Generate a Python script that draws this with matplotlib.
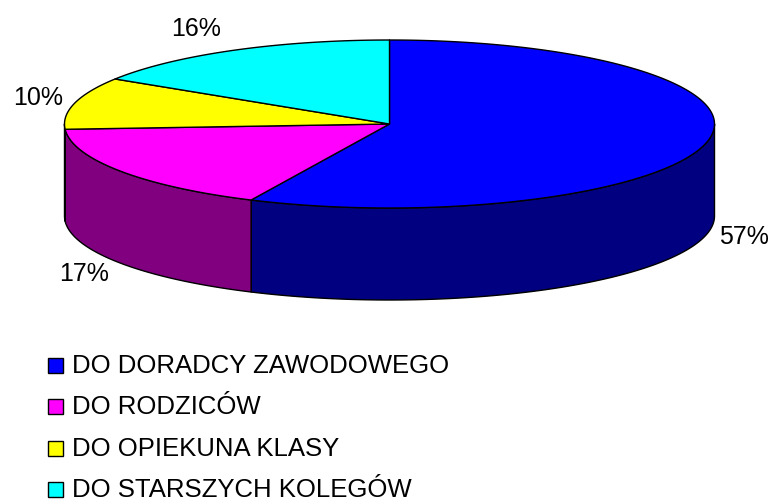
import numpy as np
import matplotlib
matplotlib.use("Agg")
from matplotlib import pyplot as plt
from matplotlib.patches import Polygon, Rectangle

labels = ["DO DORADCY ZAWODOWEGO", "DO RODZICÓW", "DO OPIEKUNA KLASY", "DO STARSZYCH KOLEGÓW"]
values = [57, 17, 10, 16]
top_colors = ["#0000FF", "#FF00FF", "#FFFF00", "#00FFFF"]
side_colors = ["#000080", "#800080", "#808000", "#008080"]

plt.rcParams['font.family'] = ['Liberation Sans', 'DejaVu Sans']

# pie geometry, in pixels
CX, CY = 389.5, 125
RX, RY = 325, 84
DEPTH = 92


def pt(theta, dy=0):
    t = np.radians(theta)
    return CX + RX * np.cos(t), CY - RY * np.sin(t) + dy


def arc(a1, a2, dy=0):
    th = np.linspace(a1, a2, max(int(abs(a2 - a1)) + 2, 2))
    return [pt(t, dy) for t in th]


fig = plt.figure(figsize=(7.7, 5.02), dpi=100)
ax = fig.add_axes([0, 0, 1, 1])
ax.set_xlim(0, 770)
ax.set_ylim(502, 0)
ax.axis("off")

total = float(sum(values))
# slices go clockwise from 12 o'clock
angles = []
end = 90.0
for v in values:
    start = end - v / total * 360.0
    angles.append((start, end))
    end = start

# sides (only the front half is visible)
for (a1, a2), sc in zip(angles, side_colors):
    for off in (-360, 0, 360):
        lo = max(a1, 180 + off)
        hi = min(a2, 360 + off)
        if hi > lo:
            top = arc(lo, hi)
            bot = arc(hi, lo, DEPTH)
            ax.add_patch(Polygon(top + bot, closed=True, facecolor=sc,
                                 edgecolor="black", lw=1, joinstyle="round"))

# top faces
for (a1, a2), tc in zip(angles, top_colors):
    poly = [(CX, CY)] + arc(a1, a2)
    ax.add_patch(Polygon(poly, closed=True, facecolor=tc,
                         edgecolor="black", lw=1, joinstyle="round"))

# percentage labels
for (a1, a2), v in zip(angles, values):
    mid = np.radians((a1 + a2) / 2)
    side = 1 if np.cos(mid) > 0 else -1
    x = CX + RX * np.cos(mid) + 12 * side
    y = CY - 1.3 * RY * np.sin(mid)
    if np.sin(mid) < 0:
        y += DEPTH - 4
    ha = "left" if side > 0 else "right"
    ax.text(x, y, "%d%%" % v, fontsize=18, ha=ha, va="center")

# legend
for i, (lab, tc) in enumerate(zip(labels, top_colors)):
    yc = 366 + i * 41.5
    ax.add_patch(Rectangle((48, yc - 7.5), 15, 15, facecolor=tc,
                           edgecolor="black", lw=1))
    ax.text(72, yc, lab, fontsize=18.5, ha="left", va="center")

plt.savefig("out.png", dpi=100)
